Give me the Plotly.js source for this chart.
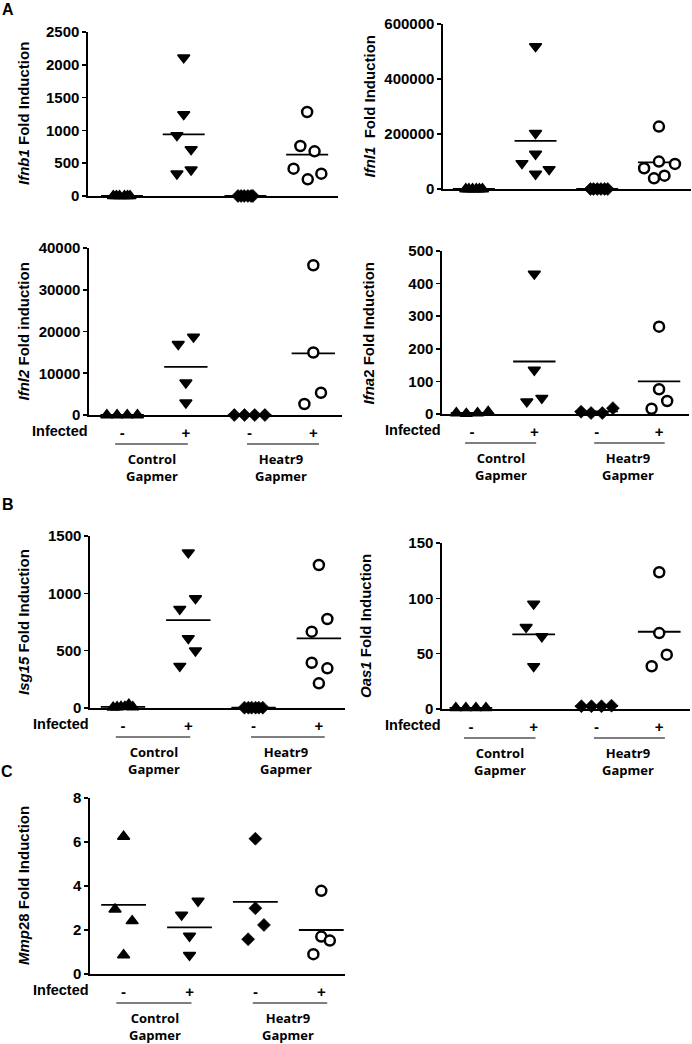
<!DOCTYPE html>
<html><head><meta charset="utf-8">
<script src="https://cdn.plot.ly/plotly-3.0.1.min.js"></script>
<style>html,body{margin:0;padding:0;background:#fff}#chart{width:692px;height:1044px}</style>
</head><body><div id="chart"></div>
<script>
// ---------- DATA ----------
const infectedLabels = ['-', '+', '-', '+'];
const gapmerLabels = ['Control<br>Gapmer', 'Heatr9<br>Gapmer'];
const groupNames = ['Control Gapmer, uninfected', 'Control Gapmer, infected', 'Heatr9 Gapmer, uninfected', 'Heatr9 Gapmer, infected'];

// Ifnb1
const ifnb1Values = [[1, 1, 1, 1, 1, 1], [2110, 1245, 925, 711, 401, 340], [1, 1, 1, 1, 1, 1], [1280, 762, 681, 417, 340, 254]];
const ifnb1Jitter = [[-0.14, -0.09, -0.04, 0.04, 0.09, 0.13], [0, 0, -0.11, 0.12, 0.12, -0.11], [-0.12, -0.07, -0.02, 0.04, 0.09, 0.12], [0, -0.11, 0.12, -0.22, 0.23, 0.01]];
const ifnb1Means = [1, 940, 1, 630];

// Ifnl1
const ifnl1Values = [[1, 1, 1, 1, 1, 1], [518600, 202800, 127500, 93500, 71700, 54700], [1, 1, 1, 1, 1, 1], [227100, 99600, 91100, 75300, 48600, 38900]];
const ifnl1Jitter = [[-0.13, -0.08, -0.02, 0.04, 0.09, 0.14], [0, 0, 0, -0.22, 0.22, 0], [-0.11, -0.06, 0.0, 0.06, 0.12, 0.17], [0, 0, 0.26, -0.24, 0.09, -0.08]];
const ifnl1Means = [1, 175000, 1, 97000];

// Ifnl2
const ifnl2Values = [[1, 1, 1, 1], [18725, 16970, 7730, 2950], [1, 1, 1, 1], [35860, 14980, 5340, 2630]];
const ifnl2Jitter = [[-0.24, -0.08, 0.08, 0.24], [0.12, -0.12, 0, 0], [-0.24, -0.08, 0.08, 0.24], [0, 0, 0.12, -0.14]];
const ifnl2Means = [1, 11550, 1, 14740];

// Ifna2
const ifna2Values = [[3, 1, 3, 7], [430, 135, 49, 38], [7, 3, 3, 18], [268, 76, 40, 16]];
const ifna2Jitter = [[-0.25, -0.09, 0.09, 0.26], [0, 0, 0.12, -0.12], [-0.25, -0.09, 0.09, 0.26], [0, 0, 0.13, -0.12]];
const ifna2Means = [3, 161, 8, 100];

// Isg15
const isg15Values = [[5, 8, 10, 12, 30, 8], [1355, 956, 863, 608, 500, 366], [3, 3, 3, 3, 3, 3], [1247, 776, 666, 395, 346, 215]];
const isg15Jitter = [[-0.15, -0.09, -0.03, 0.03, 0.09, 0.15], [0, 0.11, -0.13, 0, 0.11, -0.13], [-0.14, -0.08, -0.03, 0.03, 0.08, 0.14], [0, 0.13, -0.11, -0.11, 0.13, 0]];
const isg15Means = [10, 767, 3, 608];

// Oas1
const oas1Values = [[1, 1, 1, 1], [95, 74, 65.6, 38.6], [2.5, 2.5, 2.5, 3], [123.6, 68.6, 49.1, 38.6]];
const oas1Jitter = [[-0.24, -0.08, 0.08, 0.24], [0, -0.12, 0.13, 0], [-0.24, -0.08, 0.08, 0.24], [0, 0, 0.12, -0.12]];
const oas1Means = [1, 67.4, 2.6, 69.8];

// Mmp28
const mmp28Values = [[6.25, 2.94, 2.41, 0.86], [3.32, 2.69, 1.73, 0.86], [6.15, 2.99, 2.23, 1.58], [3.78, 1.70, 1.52, 0.90]];
const mmp28Jitter = [[0, -0.13, 0.13, 0], [0.13, -0.12, 0, 0], [0, 0, 0.13, -0.11], [0, 0, 0.13, -0.12]];
const mmp28Means = [3.14, 2.12, 3.28, 2.0];

// ---------- LAYOUT / STYLE ----------
const W = 692, H = 1044;
const ARIAL = '"Liberation Sans", Arial, sans-serif';
const LABELFONT = '"Open Sans", "Liberation Sans", sans-serif';
const symbols = [
  {symbol: 'triangle-up', size: 10.5, color: '#000', line: {color: '#000', width: 1.5}},
  {symbol: 'triangle-down', size: 10.5, color: '#000', line: {color: '#000', width: 1.5}},
  {symbol: 'diamond', size: 10, color: '#000', line: {color: '#000', width: 0.6}},
  {symbol: 'circle', size: 10, color: '#fff', line: {color: '#000', width: 2.5}}
];

const panels = [
  {gene: '<i>Ifnb1</i> Fold Induction', values: ifnb1Values, jitter: ifnb1Jitter, means: ifnb1Means, ymax: 2500, dtick: 500,
   box: [88, 338, 32, 196], xr: [-0.551, 3.50], titleX: 23, infected: false},
  {gene: '<i>Ifnl1</i>\u00a0 Fold Induction', values: ifnl1Values, jitter: ifnl1Jitter, means: ifnl1Means, ymax: 600000, dtick: 200000,
   box: [443, 691, 24, 189], xr: [-0.50, 3.52], titleX: 369, infected: false},
  {gene: '<i>Ifnl2</i> Fold induction', values: ifnl2Values, jitter: ifnl2Jitter, means: ifnl2Means, ymax: 40000, dtick: 10000,
   box: [89, 342, 248, 415], xr: [-0.52, 3.45], titleX: 23, infected: true},
  {gene: '<i>Ifna</i>2 Fold Induction', values: ifna2Values, jitter: ifna2Jitter, means: ifna2Means, ymax: 500, dtick: 100,
   box: [442, 689, 251, 414], xr: [-0.48, 3.48], titleX: 368, infected: true},
  {gene: '<i>Isg15</i> Fold Induction', values: isg15Values, jitter: isg15Jitter, means: isg15Means, ymax: 1500, dtick: 500,
   box: [90, 345, 536, 708], xr: [-0.505, 3.40], titleX: 23, infected: true},
  {gene: '<i>Oas1</i> Fold Induction', values: oas1Values, jitter: oas1Jitter, means: oas1Means, ymax: 150, dtick: 50,
   box: [442, 690, 543, 709], xr: [-0.46, 3.49], titleX: 365, infected: true},
  {gene: '<i>Mmp</i>28 Fold Induction', values: mmp28Values, jitter: mmp28Jitter, means: mmp28Means, ymax: 8, dtick: 2,
   box: [90, 345, 798, 974], xr: [-0.51, 3.36], titleX: 23, infected: true}
];

const letters = [{t: 'A', x: 8, y: 10}, {t: 'B', x: 8, y: 504}, {t: 'C', x: 7, y: 771}];

const data = [], annotations = [], shapes = [];
const layout = {
  width: W, height: H, margin: {l: 0, r: 0, t: 0, b: 0}, showlegend: false,
  paper_bgcolor: '#fff', plot_bgcolor: 'rgba(0,0,0,0)',
  font: {family: ARIAL, color: '#000'}, annotations: annotations, shapes: shapes
};

panels.forEach((p, i) => {
  const k = i + 1, suf = k > 1 ? String(k) : '';
  const xref = 'x' + suf, yref = 'y' + suf;
  layout['xaxis' + suf] = {
    domain: [p.box[0] / W, p.box[1] / W], range: p.xr, anchor: yref,
    showgrid: false, zeroline: false, showline: true, linecolor: '#000', linewidth: 1.6,
    tickmode: 'array', tickvals: [0, 1, 2, 3], ticktext: infectedLabels,
    showticklabels: p.infected, ticks: p.infected ? 'outside' : '', ticklen: 3, tickcolor: 'rgba(0,0,0,0)',
    tickfont: {family: ARIAL, size: 15, weight: 'bold', color: '#000'}, fixedrange: true
  };
  layout['yaxis' + suf] = {
    domain: [1 - p.box[3] / H, 1 - p.box[2] / H], range: [0, p.ymax], anchor: xref,
    showgrid: false, zeroline: false, showline: true, linecolor: '#000', linewidth: 1.6,
    ticks: 'outside', ticklen: 4, tickwidth: 1.6, tickcolor: '#000', tick0: 0, dtick: p.dtick,
    tickformat: 'd', exponentformat: 'none', separatethousands: false,
    tickfont: {family: ARIAL, size: 15, weight: 'bold', color: '#000'}, fixedrange: true
  };
  // mean lines
  const mx = [], my = [];
  p.means.forEach((m, g) => { mx.push(g - 0.34, g + 0.34, null); my.push(m, m, null); });
  data.push({type: 'scatter', mode: 'lines', x: mx, y: my, xaxis: xref, yaxis: yref,
    line: {color: '#000', width: 1.8}, hoverinfo: 'skip', cliponaxis: false});
  // points
  p.values.forEach((vals, g) => {
    data.push({type: 'scatter', mode: 'markers', name: groupNames[g],
      x: vals.map((v, j) => g + p.jitter[g][j]), y: vals,
      xaxis: xref, yaxis: yref, marker: symbols[g], cliponaxis: false});
  });
  // y title
  annotations.push({text: p.gene, textangle: -90, xref: 'paper', yref: 'paper',
    x: p.titleX / W, y: 1 - (p.box[2] + p.box[3]) / 2 / H, xanchor: 'center', yanchor: 'middle',
    showarrow: false, font: {family: ARIAL, size: 15, weight: 'bold', color: '#000'}});
  if (p.infected) {
    const axisY = p.box[3];
    annotations.push({text: 'Infected', xref: 'paper', yref: 'paper', x: (p.box[0] + 1) / W,
      y: 1 - (axisY + 16) / H, xanchor: 'right', yanchor: 'middle', showarrow: false,
      font: {family: ARIAL, size: 14.5, weight: 'bold', color: '#000'}});
    [[-0.11, 1.03], [1.96, 3.09]].forEach((seg, s) => {
      shapes.push({type: 'line', xref: xref, yref: 'paper', x0: seg[0], x1: seg[1],
        y0: 1 - (axisY + 29) / H, y1: 1 - (axisY + 29) / H, line: {color: '#000', width: 1.2}});
      annotations.push({text: gapmerLabels[s], xref: xref, yref: 'paper', x: s === 0 ? 0.47 : 2.5,
        y: 1 - (axisY + 52) / H, xanchor: 'center', yanchor: 'middle', showarrow: false,
        font: {family: LABELFONT, size: 13, weight: 'bold', color: '#000'}});
    });
  }
});

letters.forEach(l => annotations.push({text: l.t, xref: 'paper', yref: 'paper', x: l.x / W, y: 1 - l.y / H,
  xanchor: 'center', yanchor: 'middle', showarrow: false, font: {family: ARIAL, size: 16, weight: 'bold', color: '#000'}}));

Plotly.newPlot('chart', data, layout, {staticPlot: true, displayModeBar: false});
</script></body></html>
